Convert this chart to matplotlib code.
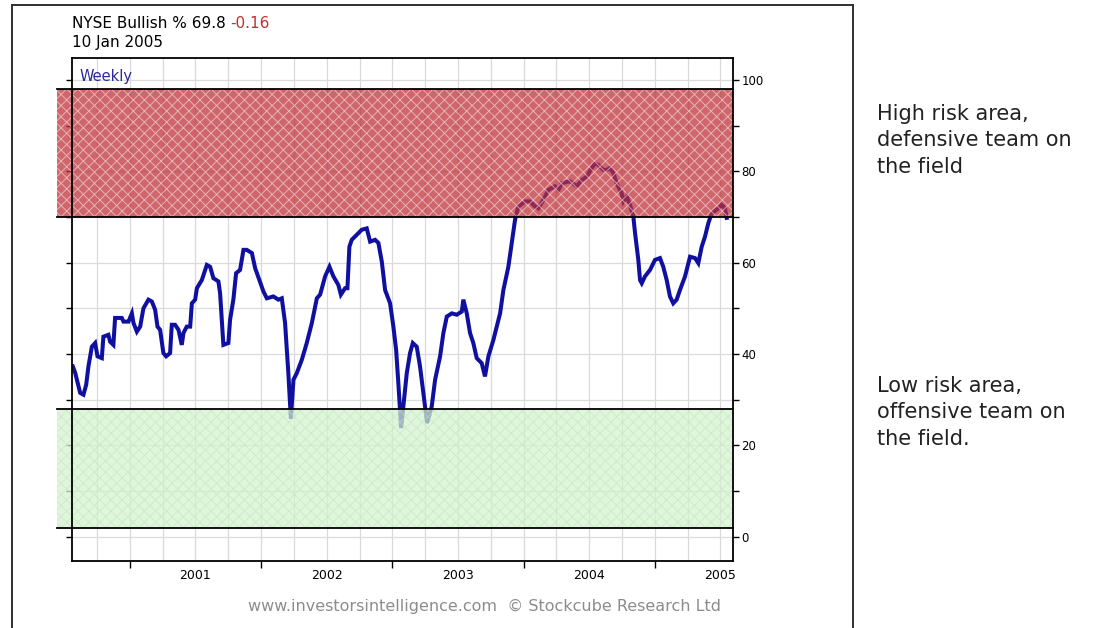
import matplotlib
matplotlib.use("Agg")
import matplotlib.pyplot as plt
import numpy as np
from matplotlib.lines import Line2D
from matplotlib.patches import Rectangle
from matplotlib.ticker import MultipleLocator, FixedLocator, NullFormatter


# Data (decimal years, weekly readings of NYSE Bullish %)

years = [
    2000.066, 2000.084, 2000.122, 2000.147, 2000.168, 2000.185, 2000.211, 2000.236,
    2000.254, 2000.287, 2000.299, 2000.337, 2000.350, 2000.375, 2000.388, 2000.439,
    2000.452, 2000.490, 2000.516, 2000.528, 2000.554, 2000.579, 2000.604, 2000.642,
    2000.668, 2000.693, 2000.711, 2000.731, 2000.756, 2000.777, 2000.807, 2000.820,
    2000.845, 2000.871, 2000.896, 2000.909, 2000.934, 2000.960, 2000.973, 2000.998,
    2001.011, 2001.049, 2001.087, 2001.112, 2001.137, 2001.175, 2001.188, 2001.201,
    2001.213, 2001.251, 2001.264, 2001.289, 2001.310, 2001.340, 2001.366, 2001.391,
    2001.430, 2001.455, 2001.487, 2001.518, 2001.544, 2001.594, 2001.632, 2001.658,
    2001.683, 2001.708, 2001.727, 2001.747, 2001.772, 2001.810, 2001.848, 2001.887,
    2001.925, 2001.950, 2001.988, 2002.021, 2002.051, 2002.089, 2002.108, 2002.140,
    2002.158, 2002.173, 2002.191, 2002.229, 2002.267, 2002.305, 2002.331, 2002.369,
    2002.394, 2002.420, 2002.445, 2002.483, 2002.508, 2002.529, 2002.546, 2002.567,
    2002.584, 2002.610, 2002.635, 2002.656, 2002.686, 2002.711, 2002.737, 2002.765,
    2002.800, 2002.826, 2002.864, 2002.889, 2002.915, 2002.953, 2002.991, 2003.029,
    2003.041, 2003.067, 2003.092, 2003.117, 2003.143, 2003.181, 2003.206, 2003.232,
    2003.270, 2003.321, 2003.346, 2003.384, 2003.410, 2003.435, 2003.460, 2003.511,
    2003.549, 2003.587, 2003.612, 2003.650, 2003.688, 2003.739, 2003.765, 2003.791,
    2003.854, 2003.905, 2003.943, 2003.981, 2004.019, 2004.044, 2004.069, 2004.107,
    2004.133, 2004.158, 2004.184, 2004.209, 2004.247, 2004.260, 2004.286, 2004.311,
    2004.336, 2004.349, 2004.362, 2004.374, 2004.387, 2004.400, 2004.425, 2004.463,
    2004.501, 2004.539, 2004.564, 2004.590, 2004.615, 2004.640, 2004.666, 2004.691,
    2004.730, 2004.768, 2004.806, 2004.831, 2004.857, 2004.882, 2004.907, 2004.933,
    2004.971, 2005.009, 2005.034, 2005.047,
]
bullish = [
    37.3, 35.9, 31.5, 31.1, 33.3, 37.3, 41.6, 42.4,
    39.5, 39.1, 43.8, 44.2, 42.7, 42.0, 47.9, 47.9,
    47.1, 47.1, 48.9, 46.8, 44.9, 46.0, 50.0, 51.9,
    51.5, 49.7, 46.0, 45.3, 40.2, 39.5, 40.2, 46.4,
    46.4, 45.3, 42.0, 44.6, 46.0, 46.0, 51.1, 51.9,
    54.4, 56.2, 59.5, 59.1, 56.6, 55.9, 53.3, 47.5,
    42.0, 42.4, 47.5, 51.9, 57.7, 58.4, 62.8, 62.8,
    62.1, 58.8, 56.2, 53.7, 52.2, 52.6, 51.9, 52.2,
    46.8, 35.8, 25.8, 34.4, 35.8, 38.7, 42.4, 46.8,
    52.2, 53.0, 57.0, 59.1, 57.0, 55.1, 53.0, 54.4,
    54.4, 63.5, 65.0, 66.1, 67.2, 67.5, 64.6, 65.0,
    64.3, 60.2, 54.0, 51.1, 46.0, 40.9, 33.6, 23.8,
    28.5, 35.8, 40.2, 42.4, 41.6, 37.3, 31.4, 24.9,
    28.5, 34.4, 39.5, 44.6, 48.2, 48.9, 48.6, 49.3,
    51.9, 48.9, 44.6, 42.4, 39.1, 38.0, 35.1, 39.5,
    43.1, 48.9, 54.0, 59.1, 64.3, 69.4, 72.3, 73.4,
    73.4, 72.3, 71.9, 73.7, 75.9, 76.7, 75.9, 77.4,
    77.8, 76.7, 78.1, 78.8, 80.7, 81.7, 81.4, 80.3,
    80.3, 80.7, 79.6, 77.4, 75.2, 73.4, 74.5, 72.6,
    70.1, 66.5, 63.5, 60.6, 56.2, 55.5, 57.0, 58.4,
    60.6, 61.0, 59.1, 56.2, 52.6, 51.1, 51.9, 54.0,
    57.0, 61.3, 61.0, 59.9, 63.5, 65.7, 68.6, 70.8,
    71.6, 72.6, 71.9, 69.8,
]

high_risk = (70, 98)
low_risk = (2, 28)
year_labels = [2001, 2002, 2003, 2004, 2005]

plt.rcParams["font.family"] = "DejaVu Sans"
plt.rcParams["hatch.linewidth"] = 0.7

fig = plt.figure(figsize=(10.93, 6.28), dpi=100, facecolor="white")
ax = fig.add_axes([0.0659, 0.1067, 0.6047, 0.8010])
ax.set_xlim(2000.06, 2005.095)
ax.set_ylim(-5.3, 104.8)

# grid (quarterly / every 10)
for q in np.arange(2000.25, 2005.05, 0.25):
    ax.axvline(q, color="#d9d9d9", lw=0.9, zorder=0.5)
for v in np.arange(0, 101, 10):
    ax.axhline(v, color="#dcdcdc", lw=0.9, zorder=0.5)

ax.plot(years, bullish, color="#1010a0", lw=2.9, zorder=2, solid_joinstyle="miter")

# risk bands, drawn over the line like the original
trans = ax.get_yaxis_transform()
x0 = -0.023
for (lo, hi), face, hatchcol, alpha, halpha in [
    (high_risk, "#bf3038", "white", 0.74, 0.5),
    (low_risk, "#d4f3cf", "#bfe3ba", 0.72, 0.55),
]:
    ax.add_patch(Rectangle((x0, lo), 1 - x0, hi - lo, transform=trans,
                           facecolor=face, edgecolor="none", alpha=alpha,
                           zorder=3, clip_on=False))
    ax.add_patch(Rectangle((x0, lo), 1 - x0, hi - lo, transform=trans,
                           facecolor="none", edgecolor=hatchcol, hatch="xxx",
                           lw=0, alpha=halpha, zorder=3, clip_on=False))
    for edge in (lo, hi):
        ax.plot([x0, 1], [edge, edge], transform=trans, color="black",
                lw=1.3, zorder=4, clip_on=False)

# axes formatting
for spine in ax.spines.values():
    spine.set_linewidth(1.3)
    spine.set_color("black")
    spine.set_zorder(5)

ax.yaxis.set_major_locator(MultipleLocator(20))
ax.yaxis.set_minor_locator(MultipleLocator(10))
ax.tick_params(axis="y", which="both", left=True, right=True, labelleft=False,
               labelright=True, direction="out", length=4, width=1, pad=2,
               labelsize=8.5)

ax.xaxis.set_major_locator(FixedLocator(year_labels))
ax.set_xticklabels([str(y) for y in year_labels])
ax.xaxis.set_minor_locator(FixedLocator(np.arange(2000.5, 2005, 1.0)))
ax.xaxis.set_minor_formatter(NullFormatter())
ax.tick_params(axis="x", which="major", length=0, pad=6, labelsize=9)
ax.tick_params(axis="x", which="minor", length=5, width=1, direction="out")

ax.text(0.012, 0.978, "Weekly", transform=ax.transAxes, color="#2a2a9a",
        fontsize=10.5, ha="left", va="top", zorder=6)

# header
t1 = fig.text(72 / 1093, 1 - 23 / 628, "NYSE Bullish % 69.8 ", fontsize=11,
              ha="left", va="center", color="black")
fig.canvas.draw()
bb = t1.get_window_extent()
fig.text(bb.x1 / fig.bbox.width, 1 - 23 / 628, "-0.16", fontsize=11,
         ha="left", va="center", color="#c03030")
fig.text(72 / 1093, 1 - 43 / 628, "10 Jan 2005", fontsize=11,
         ha="left", va="center", color="black")

# footer
fig.text(485 / 1093, 1 - 606 / 628,
         "www.investorsintelligence.com  \u00a9 Stockcube Research Ltd",
         fontsize=11.5, ha="center", va="center", color="#8c8c8c")

# outer frame
frame = dict(color="#303030", lw=1.4, transform=fig.transFigure)
fig.add_artist(Line2D([12 / 1093, 12 / 1093], [0, 1 - 5 / 628], **frame))
fig.add_artist(Line2D([853 / 1093, 853 / 1093], [0, 1 - 5 / 628], **frame))
fig.add_artist(Line2D([12 / 1093, 853 / 1093], [1 - 5 / 628, 1 - 5 / 628], **frame))

# annotations
fig.text(877 / 1093, 1 - 104 / 628, "High risk area,\ndefensive team on\nthe field",
         fontsize=15, ha="left", va="top", color="#222222", linespacing=1.4)
fig.text(877 / 1093, 1 - 376 / 628, "Low risk area,\noffensive team on\nthe field.",
         fontsize=15, ha="left", va="top", color="#222222", linespacing=1.4)

fig.savefig("out.png", dpi=100, facecolor="white")
